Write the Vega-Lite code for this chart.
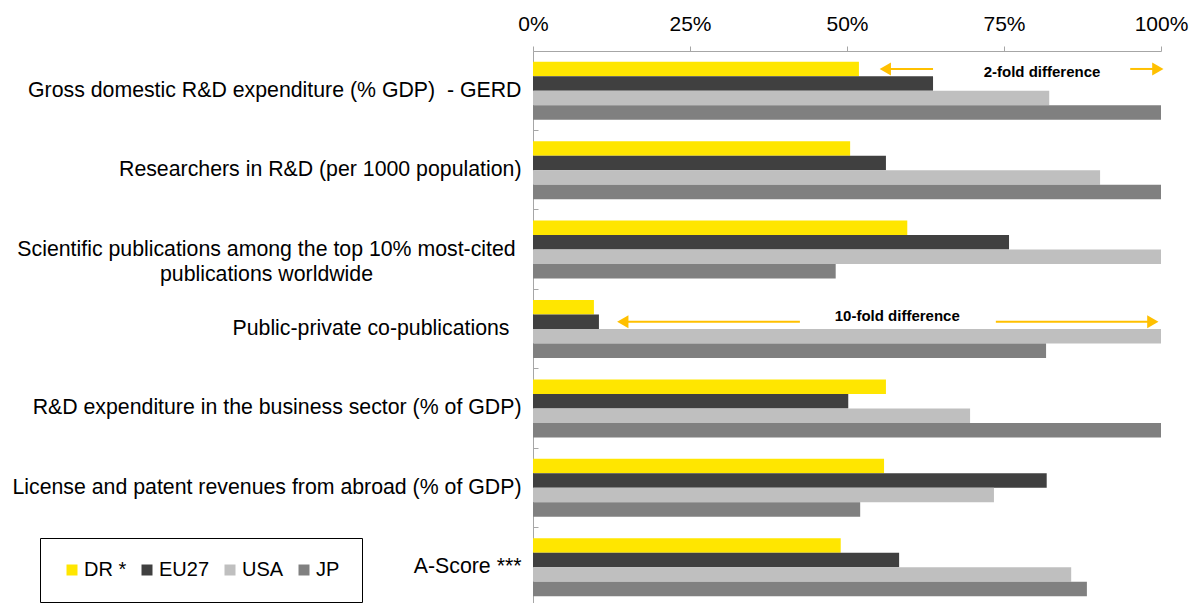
{
  "$schema": "https://vega.github.io/schema/vega-lite/v6.json",
  "autosize": "none",
  "padding": {"left": 533, "top": 51, "right": 29, "bottom": 0},
  "width": 628,
  "height": 556,
  "background": "white",
  "config": {
    "font": "Liberation Sans",
    "view": {"stroke": null}
  },
  "datasets": {
    "bars": [
      {"indicator": "Gross domestic R&D expenditure (% GDP)  - GERD", "region": "DR *", "share": 51.9},
      {"indicator": "Gross domestic R&D expenditure (% GDP)  - GERD", "region": "EU27", "share": 63.7},
      {"indicator": "Gross domestic R&D expenditure (% GDP)  - GERD", "region": "USA", "share": 82.2},
      {"indicator": "Gross domestic R&D expenditure (% GDP)  - GERD", "region": "JP", "share": 100},
      {"indicator": "Researchers in R&D (per 1000 population)", "region": "DR *", "share": 50.5},
      {"indicator": "Researchers in R&D (per 1000 population)", "region": "EU27", "share": 56.2},
      {"indicator": "Researchers in R&D (per 1000 population)", "region": "USA", "share": 90.3},
      {"indicator": "Researchers in R&D (per 1000 population)", "region": "JP", "share": 100},
      {"indicator": "Scientific publications among the top 10% most-cited publications worldwide", "region": "DR *", "share": 59.6},
      {"indicator": "Scientific publications among the top 10% most-cited publications worldwide", "region": "EU27", "share": 75.8},
      {"indicator": "Scientific publications among the top 10% most-cited publications worldwide", "region": "USA", "share": 100},
      {"indicator": "Scientific publications among the top 10% most-cited publications worldwide", "region": "JP", "share": 48.2},
      {"indicator": "Public-private co-publications", "region": "DR *", "share": 9.7},
      {"indicator": "Public-private co-publications", "region": "EU27", "share": 10.5},
      {"indicator": "Public-private co-publications", "region": "USA", "share": 100},
      {"indicator": "Public-private co-publications", "region": "JP", "share": 81.7},
      {"indicator": "R&D expenditure in the business sector (% of GDP)", "region": "DR *", "share": 56.2},
      {"indicator": "R&D expenditure in the business sector (% of GDP)", "region": "EU27", "share": 50.2},
      {"indicator": "R&D expenditure in the business sector (% of GDP)", "region": "USA", "share": 69.6},
      {"indicator": "R&D expenditure in the business sector (% of GDP)", "region": "JP", "share": 100},
      {"indicator": "License and patent revenues from abroad (% of GDP)", "region": "DR *", "share": 55.9},
      {"indicator": "License and patent revenues from abroad (% of GDP)", "region": "EU27", "share": 81.8},
      {"indicator": "License and patent revenues from abroad (% of GDP)", "region": "USA", "share": 73.4},
      {"indicator": "License and patent revenues from abroad (% of GDP)", "region": "JP", "share": 52.1},
      {"indicator": "A-Score ***", "region": "DR *", "share": 49.0},
      {"indicator": "A-Score ***", "region": "EU27", "share": 58.3},
      {"indicator": "A-Score ***", "region": "USA", "share": 85.7},
      {"indicator": "A-Score ***", "region": "JP", "share": 88.2}
    ],
    "arrows": [
      {"indicator": "Gross domestic R&D expenditure (% GDP)  - GERD", "region": "DR *", "from": 63.7, "to": 56.1, "head": "triangle-left"},
      {"indicator": "Gross domestic R&D expenditure (% GDP)  - GERD", "region": "DR *", "from": 95.1, "to": 99.5, "head": "triangle-right"},
      {"indicator": "Public-private co-publications", "region": "EU27", "from": 42.5, "to": 14.3, "head": "triangle-left"},
      {"indicator": "Public-private co-publications", "region": "EU27", "from": 73.7, "to": 98.7, "head": "triangle-right"}
    ],
    "notes": [
      {"indicator": "Gross domestic R&D expenditure (% GDP)  - GERD", "region": "DR *", "pos": 81.05, "note": "2-fold difference"},
      {"indicator": "Public-private co-publications", "region": "EU27", "pos": 58.0, "note": "10-fold difference"}
    ]
  },
  "encoding": {
    "y": {
      "field": "indicator",
      "type": "nominal",
      "sort": null,
      "title": null,
      "scale": {
        "domain": [
          "Gross domestic R&D expenditure (% GDP)  - GERD",
          "Researchers in R&D (per 1000 population)",
          "Scientific publications among the top 10% most-cited publications worldwide",
          "Public-private co-publications",
          "R&D expenditure in the business sector (% of GDP)",
          "License and patent revenues from abroad (% of GDP)",
          "A-Score ***"
        ],
        "paddingInner": 0,
        "paddingOuter": 0
      },
      "axis": {
        "bandPosition": 0,
        "tickSize": -5,
        "tickColor": "#a6a6a6",
        "domainColor": "#a6a6a6",
        "tickWidth": 1,
        "domainWidth": 1,
        "labelPadding": {
          "condition": [
            {"test": "datum.value === 'Public-private co-publications'", "value": 29},
            {"test": "indexof(datum.value, 'Scientific') === 0", "value": 272}
          ],
          "value": 17
        },
        "labelAlign": {
          "condition": {"test": "indexof(datum.value, 'Scientific') === 0", "value": "center"},
          "value": "right"
        },
        "labelFontSize": 21.3,
        "labelColor": "#000000",
        "labelLimit": 0,
        "labelLineHeight": 25,
        "labelExpr": "indexof(datum.value, 'Scientific') === 0 ? ['Scientific publications among the top 10% most-cited', 'publications worldwide'] : datum.value === 'Gross domestic R&D expenditure (% GDP)  - GERD' ? 'Gross domestic R&D expenditure (% GDP)\u00a0 - GERD' : datum.value"
      }
    },
    "yOffset": {
      "field": "region",
      "type": "nominal",
      "sort": null,
      "scale": {"domain": ["DR *", "EU27", "USA", "JP"], "paddingInner": 0, "paddingOuter": 0.738}
    }
  },
  "layer": [
    {
      "data": {"name": "bars"},
      "mark": {"type": "bar"},
      "encoding": {
        "x": {
          "field": "share",
          "type": "quantitative",
          "title": null,
          "scale": {"domain": [0, 100], "nice": false},
          "axis": {
            "orient": "top",
            "values": [0, 25, 50, 75, 100],
            "labelExpr": "datum.value + '%'",
            "grid": false,
            "tickSize": 5,
            "tickColor": "#a6a6a6",
            "domainColor": "#a6a6a6",
            "labelFontSize": 21,
            "labelColor": "#000000",
            "labelPadding": 12,
            "labelFlush": false
          }
        },
        "color": {
          "field": "region",
          "type": "nominal",
          "sort": null,
          "scale": {"domain": ["DR *", "EU27", "USA", "JP"], "range": ["#FFE600", "#404040", "#BFBFBF", "#808080"]},
          "legend": {
            "title": null,
            "orient": "none",
            "legendX": -493,
            "legendY": 487,
            "direction": "horizontal",
            "columns": 4,
            "strokeColor": "#000000",
            "fillColor": "white",
            "padding": 22,
            "symbolType": "square",
            "symbolSize": 121,
            "symbolStrokeWidth": 0,
            "labelFontSize": 20,
            "labelColor": "#000000",
            "labelOffset": 2,
            "columnPadding": 10
          }
        }
      }
    },
    {
      "data": {"name": "arrows"},
      "mark": {"type": "rule", "color": "#FFC000", "strokeWidth": 2},
      "encoding": {
        "x": {"field": "from", "type": "quantitative"},
        "x2": {"field": "to"}
      }
    },
    {
      "data": {"name": "arrows"},
      "mark": {"type": "point", "filled": true, "color": "#FFC000", "size": 170, "opacity": 1},
      "encoding": {
        "x": {"field": "to", "type": "quantitative"},
        "shape": {"field": "head", "type": "nominal", "scale": null, "legend": null}
      }
    },
    {
      "data": {"name": "notes"},
      "transform": [{"filter": "datum.region === 'DR *'"}],
      "mark": {"type": "text", "fontWeight": "bold", "fontSize": 15, "color": "#000000", "align": "center", "baseline": "middle", "dy": 3},
      "encoding": {
        "x": {"field": "pos", "type": "quantitative"},
        "text": {"field": "note"}
      }
    },
    {
      "data": {"name": "notes"},
      "transform": [{"filter": "datum.region === 'EU27'"}],
      "mark": {"type": "text", "fontWeight": "bold", "fontSize": 15, "color": "#000000", "align": "center", "baseline": "middle", "dy": -6},
      "encoding": {
        "x": {"field": "pos", "type": "quantitative"},
        "text": {"field": "note"}
      }
    }
  ]
}
